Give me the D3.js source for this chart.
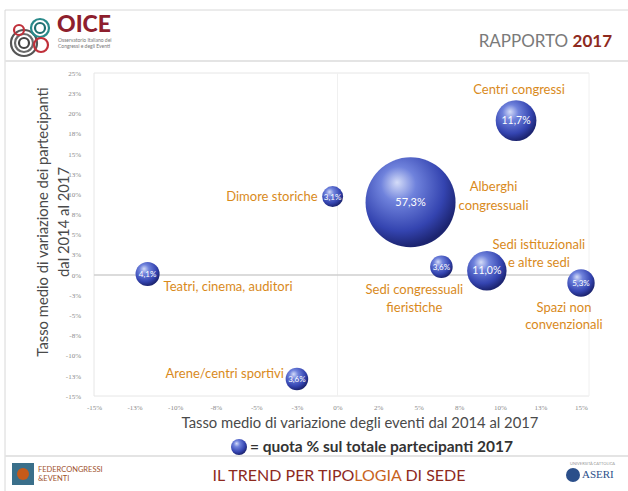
<!DOCTYPE html>
<html><head><meta charset="utf-8">
<script src="https://cdn.jsdelivr.net/npm/d3@7"></script>
<style>body{margin:0;background:#fff}svg{display:block}</style>
</head><body>
<script>
// ---- data ----
const categories = ["Centri congressi","Alberghi congressuali","Dimore storiche","Teatri, cinema, auditori","Arene/centri sportivi","Sedi congressuali fieristiche","Sedi istituzionali e altre sedi","Spazi non convenzionali"];
const labelLines = [["Centri congressi"],["Alberghi","congressuali"],["Dimore storiche"],["Teatri, cinema, auditori"],["Arene/centri sportivi"],["Sedi congressuali","fieristiche"],["Sedi istituzionali","e altre sedi"],["Spazi non","convenzionali"]];
const eventsChange = [11.0, 4.5, -0.3, -11.7, -2.5, 6.4, 9.2, 15.0];
const participantsChange = [19.1, 9.0, 9.7, 0.1, -12.9, 1.0, 0.5, -1.0];
const share = [11.7, 57.3, 3.1, 4.1, 3.6, 3.6, 11.0, 5.3];
const shareLabels = ["11,7%","57,3%","3,1%","4,1%","3,6%","3,6%","11,0%","5,3%"];
const xTicks = [-15,-12.5,-10,-7.5,-5,-2.5,0,2.5,5,7.5,10,12.5,15];
const xTickLabels = ["-15%","-13%","-10%","-8%","-5%","-3%","0%","2%","5%","8%","10%","13%","15%"];
const yTicks = [-15,-12.5,-10,-7.5,-5,-2.5,0,2.5,5,7.5,10,12.5,15,17.5,20,22.5,25];
const yTickLabels = ["-15%","-13%","-10%","-8%","-5%","-3%","0%","3%","5%","8%","10%","13%","15%","18%","20%","23%","25%"];

// label layout (offsets from bubble centre)
const labelLayout = [
  {dx:3, dy:-27, anchor:"middle", gap:18},
  {dx:83, dy:-11, anchor:"middle", gap:19},
  {dx:-15, dy:4, anchor:"end", gap:18},
  {dx:16, dy:17, anchor:"start", gap:18},
  {dx:-13, dy:-1, anchor:"end", gap:18},
  {dx:-27, dy:27, anchor:"middle", gap:18},
  {dx:52, dy:-22, anchor:"middle", gap:18},
  {dx:-17, dy:29, anchor:"middle", gap:17}
];

const W=628,H=491;
const svg=d3.select("body").append("svg").attr("width",W).attr("height",H);
svg.append("rect").attr("width",W).attr("height",H).attr("fill","#fff");

const defs=svg.append("defs");
const grad=defs.append("radialGradient").attr("id","ball").attr("cx","40%").attr("cy","35%").attr("r","65%").attr("fx","35%").attr("fy","28%");
grad.append("stop").attr("offset","0%").attr("stop-color","#d4dcf8");
grad.append("stop").attr("offset","30%").attr("stop-color","#6f82dc");
grad.append("stop").attr("offset","75%").attr("stop-color","#3444b0");
grad.append("stop").attr("offset","100%").attr("stop-color","#1c2470");

// frame lines
const frame="#d8d8d8";
svg.append("line").attr("x1",5).attr("x2",W).attr("y1",10).attr("y2",10).attr("stroke",frame);
svg.append("line").attr("x1",5).attr("x2",5).attr("y1",10).attr("y2",H).attr("stroke",frame);
svg.append("line").attr("x1",5).attr("x2",W).attr("y1",61).attr("y2",61).attr("stroke","#e4e4e4").attr("stroke-width",2);
svg.append("line").attr("x1",5).attr("x2",W).attr("y1",456).attr("y2",456).attr("stroke","#e4e4e4").attr("stroke-width",2);

// header logo
const lg=svg.append("g");
[[24,43,13,"#555"],[24,43,9,"#6a6a6a"],[24,43,5,"#444"],[40,28,9,"#2a8a8a"],[40,28,5,"#1f6f70"],[41,45,7,"#c0303a"],[19,30,5,"#c0303a"]].forEach(c=>{
  lg.append("circle").attr("cx",c[0]).attr("cy",c[1]).attr("r",c[2]).attr("fill","none").attr("stroke",c[3]).attr("stroke-width",2.2);
});
svg.append("text").attr("x",57).attr("y",32).attr("font-family","Lato, sans-serif").attr("font-weight",900).attr("font-size",23).attr("fill","#8e1f2e").text("OICE");
svg.append("text").attr("x",58).attr("y",42).attr("font-family","Lato, sans-serif").attr("font-size",5).attr("fill","#777").text("Osservatorio Italiano dei");
svg.append("text").attr("x",58).attr("y",48).attr("font-family","Lato, sans-serif").attr("font-size",5).attr("fill","#777").text("Congressi e degli Eventi");
const rap=svg.append("text").attr("x",612).attr("y",47).attr("text-anchor","end").attr("font-family","Lato, sans-serif").attr("font-size",17);
rap.append("tspan").attr("fill","#7a7a7a").text("RAPPORTO ");
rap.append("tspan").attr("fill","#8e2a1e").attr("font-weight",700).text("2017");

// scales
const x=d3.scaleLinear().domain([-15,15]).range([94,581]);
const y=d3.scaleLinear().domain([-15,25]).range([396,73]);
const r=d3.scaleSqrt().domain([0,57.3]).range([0,45]);

// plot area frame / grid
const grid="#e6e6e6";
svg.append("line").attr("x1",x(-15)).attr("x2",x(15)+8).attr("y1",y(25)).attr("y2",y(25)).attr("stroke",grid);
svg.append("line").attr("x1",x(-15)).attr("x2",x(15)+8).attr("y1",y(-15)).attr("y2",y(-15)).attr("stroke",grid);
svg.append("line").attr("x1",x(-15)).attr("x2",x(-15)).attr("y1",y(25)).attr("y2",y(-15)).attr("stroke",grid);
svg.append("line").attr("x1",x(15)+8).attr("x2",x(15)+8).attr("y1",y(25)).attr("y2",y(-15)).attr("stroke","#f0f0f0");
svg.append("line").attr("x1",x(0)).attr("x2",x(0)).attr("y1",y(25)).attr("y2",y(-15)).attr("stroke","#f0f0f0");
svg.append("line").attr("x1",x(-15)).attr("x2",x(15)+8).attr("y1",y(0)).attr("y2",y(0)).attr("stroke","#cfcfcf").attr("stroke-width",1.5);

// axes
const xAxis=d3.axisBottom(x).tickValues(xTicks).tickSize(0).tickFormat((d,i)=>xTickLabels[i]);
const gx=svg.append("g").attr("transform",`translate(0,${y(-15)+6})`).call(xAxis);
const yAxis=d3.axisLeft(y).tickValues(yTicks).tickSize(0).tickFormat((d,i)=>yTickLabels[i]);
const gy=svg.append("g").attr("transform",`translate(${x(-15)-10},0)`).call(yAxis);
[gx,gy].forEach(g=>{g.select(".domain").remove();g.selectAll("text").attr("font-family","Liberation Serif, serif").attr("font-size",7).attr("fill","#8a8a8a");});

// axis titles
svg.append("text").attr("x",360).attr("y",428).attr("text-anchor","middle").attr("font-family","Lato, sans-serif").attr("font-size",14.8).attr("fill","#4a4a4a").text("Tasso medio di variazione degli eventi dal 2014 al 2017");
const yt=svg.append("text").attr("transform","translate(48,222) rotate(-90)").attr("text-anchor","middle").attr("font-family","Lato, sans-serif").attr("font-size",14.8).attr("fill","#4a4a4a");
yt.append("tspan").attr("x",0).attr("y",0).text("Tasso medio di variazione dei partecipanti");
yt.append("tspan").attr("x",0).attr("y",21).text("dal 2014 al 2017");

// bubbles
const idx=d3.range(categories.length).sort((a,b)=>share[b]-share[a]);
const bg=svg.append("g");
bg.selectAll("circle").data(idx).join("circle")
  .attr("cx",i=>x(eventsChange[i])).attr("cy",i=>y(participantsChange[i])).attr("r",i=>r(share[i]))
  .attr("fill","url(#ball)");
bg.selectAll("text.val").data(idx).join("text").attr("class","val")
  .attr("x",i=>x(eventsChange[i])).attr("y",i=>y(participantsChange[i])+ (share[i]>20?4:3))
  .attr("text-anchor","middle").attr("font-family","Lato, sans-serif")
  .attr("font-size",i=>share[i]>20?11:(share[i]>10?10.5:8)).attr("fill","#fff")
  .text(i=>shareLabels[i]);

// category labels
categories.forEach((c,i)=>{
  const L=labelLayout[i];
  const t=svg.append("text").attr("text-anchor",L.anchor).attr("font-family","Lato, sans-serif").attr("font-size",13).attr("fill","#d98a1c");
  labelLines[i].forEach((s,k)=>{
    t.append("tspan").attr("x",x(eventsChange[i])+L.dx).attr("y",y(participantsChange[i])+L.dy+k*L.gap).text(s);
  });
});

// legend
svg.append("circle").attr("cx",239).attr("cy",447).attr("r",8).attr("fill","url(#ball)");
svg.append("text").attr("x",250).attr("y",452).attr("font-family","Lato, sans-serif").attr("font-weight",700).attr("font-size",15.5).attr("fill","#333").text("= quota % sul totale partecipanti 2017");

// footer
const fl=svg.append("g");
fl.append("rect").attr("x",12).attr("y",463).attr("width",22).attr("height",22).attr("fill","#3a6f8a");
fl.append("circle").attr("cx",23).attr("cy",474).attr("r",6).attr("fill","#c55a1a");
svg.append("text").attr("x",38).attr("y",472).attr("font-family","Lato, sans-serif").attr("font-size",7.5).attr("fill","#a0522d").text("FEDERCONGRESSI");
svg.append("text").attr("x",38).attr("y",481).attr("font-family","Lato, sans-serif").attr("font-size",7.5).attr("fill","#a0522d").text("&EVENTI");
const ft=svg.append("text").attr("x",339).attr("y",481).attr("text-anchor","middle").attr("font-family","Lato, sans-serif").attr("font-size",16).attr("fill","#8e2a1e");
ft.append("tspan").text("IL TREND PER TIPO");
ft.append("tspan").attr("fill","#c8641e").text("LOGIA");
ft.append("tspan").text(" DI SEDE");
svg.append("circle").attr("cx",573).attr("cy",475).attr("r",7).attr("fill","#2b4f8a");
svg.append("text").attr("x",582).attr("y",478).attr("font-family","Liberation Serif, serif").attr("font-size",11).attr("fill","#2b4f8a").text("ASERI");
svg.append("text").attr("x",570).attr("y",465).attr("font-family","Lato, sans-serif").attr("font-size",4).attr("fill","#999").text("UNIVERSITÀ CATTOLICA");
</script>
</body></html>
